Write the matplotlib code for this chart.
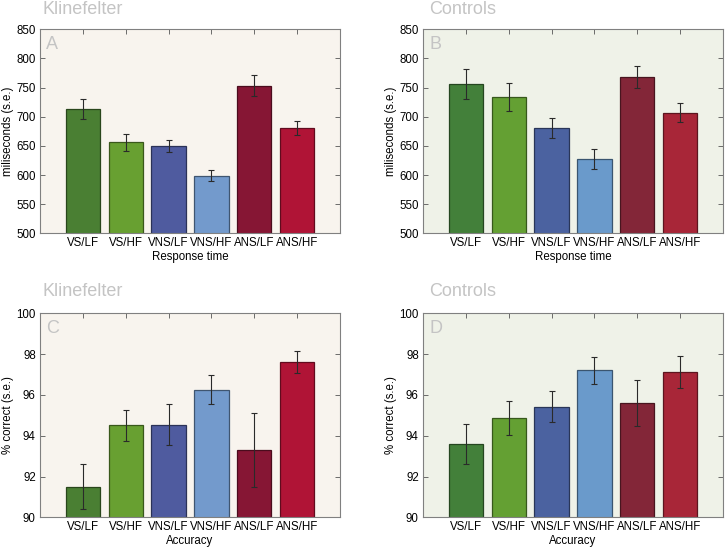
import matplotlib
matplotlib.use("Agg")
import matplotlib.pyplot as plt
import numpy as np

plt.rcParams['font.family'] = ['Liberation Sans', 'DejaVu Sans']

categories = ["VS/LF", "VS/HF", "VNS/LF", "VNS/HF", "ANS/LF", "ANS/HF"]

rt_klinefelter = [712.7, 656.1, 649.3, 598.9, 752.8, 680.2]
rt_klinefelter_se = [17.0, 14.5, 10.3, 10.0, 18.0, 12.0]
rt_controls = [756.2, 733.3, 680.7, 627.0, 767.6, 706.5]
rt_controls_se = [26.3, 24.0, 17.7, 16.9, 18.9, 16.3]

acc_klinefelter = [91.50, 94.51, 94.54, 96.26, 93.30, 97.60]
acc_klinefelter_se = [1.10, 0.77, 1.00, 0.72, 1.83, 0.55]
acc_controls = [93.58, 94.85, 95.42, 97.20, 95.59, 97.12]
acc_controls_se = [0.98, 0.83, 0.75, 0.65, 1.12, 0.78]

colors_klinefelter = ["#4a7f33", "#68a031", "#4f5b9f", "#739acc", "#861634", "#b01436"]
colors_controls = ["#43803a", "#64a033", "#4b62a0", "#6a9acb", "#832638", "#a82638"]

W, H = 727, 548
fig = plt.figure(figsize=(W / 100, H / 100), dpi=100)
fig.patch.set_facecolor("white")


def darker(c, f=0.55):
    rgb = np.array(matplotlib.colors.to_rgb(c))
    return tuple(rgb * f)


panels = [
    (40, 29.3, rt_klinefelter, rt_klinefelter_se, colors_klinefelter, "#f8f4ee", "A", "Klinefelter",
     (500, 850), np.arange(500, 851, 50), "miliseconds (s.e.)", "Response time", 42, 10),
    (423, 29.3, rt_controls, rt_controls_se, colors_controls, "#eff2e8", "B", "Controls",
     (500, 850), np.arange(500, 851, 50), "miliseconds (s.e.)", "Response time", 429, 10),
    (40, 313.3, acc_klinefelter, acc_klinefelter_se, colors_klinefelter, "#f8f4ee", "C", "Klinefelter",
     (90, 100), np.arange(90, 101, 2), "% correct (s.e.)", "Accuracy", 42, 291),
    (423, 313.3, acc_controls, acc_controls_se, colors_controls, "#eff2e8", "D", "Controls",
     (90, 100), np.arange(90, 101, 2), "% correct (s.e.)", "Accuracy", 429, 291),
]

aw, ah = 300, 204
x = np.arange(1, len(categories) + 1)
for (left, top, vals, se, cols, bg, letter, title, ylim, yticks, ylabel, xlabel, tx, ty) in panels:
    ax = fig.add_axes([left / W, 1 - (top + ah) / H, aw / W, ah / H])
    ax.set_facecolor(bg)
    ax.bar(x, vals, width=0.8, color=cols, edgecolor=[darker(c) for c in cols], linewidth=0.9, zorder=2)
    ax.errorbar(x, vals, yerr=se, fmt="none", ecolor="#2a2a2a", elinewidth=0.8,
                capsize=2.2, capthick=0.8, zorder=3)
    ax.set_xlim(0, 7)
    ax.set_ylim(*ylim)
    ax.set_yticks(yticks)
    ax.set_xticks(x)
    ax.set_xticklabels(categories)
    ax.tick_params(direction="in", length=3.5, width=0.6, color="#555555",
                   top=True, right=True, labelsize=8.3, pad=3, labelcolor="black")
    for s in ax.spines.values():
        s.set_color("#808080")
        s.set_linewidth(0.8)
    ax.set_ylabel(ylabel, fontsize=8.3)
    ax.yaxis.set_label_coords(-26 / aw, 0.5)
    ax.set_xlabel(xlabel, fontsize=8.3, labelpad=1)
    ax.text(6 / aw, 1 - 15 / ah, letter, transform=ax.transAxes, fontsize=13,
            color="#c4c4c4", ha="left", va="center")
    fig.text(tx / W, 1 - ty / H, title, fontsize=13, color="#c4c4c4", ha="left", va="center")

fig.savefig("out.png", dpi=100, facecolor="white")
